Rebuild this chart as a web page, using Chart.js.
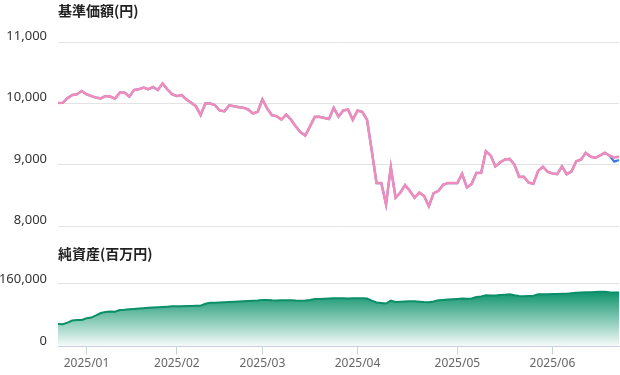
<!DOCTYPE html>
<html lang="ja">
<head>
<meta charset="UTF-8" />
<title>基準価額・純資産</title>
<script src="https://cdn.jsdelivr.net/npm/chart.js@4.4.1/dist/chart.umd.min.js"></script>
<style>
  body { margin: 0; background: #fff; }
  #wrap { position: relative; width: 620px; height: 375px; }
  #nav { position: absolute; left: 0; top: 0; }
  #aum { position: absolute; left: 0; top: 236px; }
</style>
</head>
<body>
<div id="wrap">
  <canvas id="nav" width="620" height="245"></canvas>
  <canvas id="aum" width="620" height="139"></canvas>
</div>
<script>
const dates = [
  "2024/12/23","2024/12/24","2024/12/25","2024/12/26","2024/12/27","2024/12/30",
  "2025/01/06","2025/01/07","2025/01/08","2025/01/09","2025/01/10","2025/01/14","2025/01/15",
  "2025/01/16","2025/01/17","2025/01/20","2025/01/21","2025/01/22","2025/01/23","2025/01/24",
  "2025/01/27","2025/01/28","2025/01/29","2025/01/30","2025/01/31",
  "2025/02/03","2025/02/04","2025/02/05","2025/02/06","2025/02/07","2025/02/10","2025/02/12",
  "2025/02/13","2025/02/14","2025/02/17","2025/02/18","2025/02/19","2025/02/20","2025/02/21",
  "2025/02/25","2025/02/26","2025/02/27","2025/02/28",
  "2025/03/03","2025/03/04","2025/03/05","2025/03/06","2025/03/07","2025/03/10","2025/03/11",
  "2025/03/12","2025/03/13","2025/03/14","2025/03/17","2025/03/18","2025/03/19","2025/03/21",
  "2025/03/24","2025/03/25","2025/03/26","2025/03/27","2025/03/28","2025/03/31",
  "2025/04/01","2025/04/02","2025/04/03","2025/04/04","2025/04/07","2025/04/08","2025/04/09",
  "2025/04/10","2025/04/11","2025/04/14","2025/04/15","2025/04/16","2025/04/17","2025/04/18",
  "2025/04/21","2025/04/22","2025/04/23","2025/04/24","2025/04/25","2025/04/28","2025/04/30",
  "2025/05/01","2025/05/02","2025/05/07","2025/05/08","2025/05/09","2025/05/12","2025/05/13",
  "2025/05/14","2025/05/15","2025/05/16","2025/05/19","2025/05/20","2025/05/21","2025/05/22",
  "2025/05/23","2025/05/26","2025/05/27","2025/05/28","2025/05/29","2025/05/30",
  "2025/06/02","2025/06/03","2025/06/04","2025/06/05","2025/06/06","2025/06/09","2025/06/10",
  "2025/06/11","2025/06/12","2025/06/13","2025/06/16","2025/06/17","2025/06/18","2025/06/19",
  "2025/06/20"
];
const monthLabels = ["2025/01", "2025/02", "2025/03", "2025/04", "2025/05", "2025/06"];
const navTicks = [8000, 9000, 10000, 11000];
const aumTicks = [0, 160000];

// 分配金再投資基準価額 (pink)
const navReinvested = [
  10012, 10015, 10090, 10142, 10154, 10208, 10154, 10125, 10099, 10088,
  10126, 10116, 10083, 10182, 10182, 10116, 10225, 10236, 10264, 10236,
  10274, 10225, 10331, 10236, 10154, 10126, 10142, 10071, 10017, 9960,
  9815, 10005, 10005, 9977, 9889, 9878, 9972, 9960, 9944, 9934,
  9906, 9840, 9868, 10071, 9922, 9812, 9795, 9740, 9823, 9740,
  9630, 9537, 9481, 9630, 9785, 9785, 9768, 9752, 9934, 9790,
  9889, 9905, 9739, 9889, 9867, 9739, 9230, 8705, 8705, 8357,
  8964, 8466, 8549, 8672, 8577, 8466, 8549, 8494, 8328, 8539,
  8577, 8677, 8705, 8705, 8705, 8855, 8632, 8689, 8870, 8870,
  9226, 9154, 8977, 9043, 9088, 9100, 9005, 8806, 8806, 8711,
  8695, 8905, 8972, 8889, 8861, 8850, 8977, 8850, 8894, 9060,
  9088, 9199, 9138, 9116, 9154, 9199, 9154, 9120, 9140
];
// 基準価額 (blue)
const nav = [
  10012, 10015, 10090, 10142, 10154, 10208, 10154, 10125, 10099, 10088,
  10126, 10116, 10083, 10182, 10182, 10116, 10225, 10236, 10264, 10236,
  10274, 10225, 10331, 10236, 10154, 10126, 10142, 10071, 10017, 9960,
  9815, 10005, 10005, 9977, 9889, 9878, 9972, 9960, 9944, 9934,
  9906, 9840, 9868, 10071, 9922, 9812, 9795, 9740, 9823, 9740,
  9630, 9537, 9481, 9630, 9785, 9785, 9768, 9752, 9934, 9790,
  9889, 9905, 9739, 9889, 9867, 9739, 9230, 8705, 8705, 8357,
  8964, 8466, 8549, 8672, 8577, 8466, 8549, 8494, 8328, 8539,
  8577, 8677, 8705, 8705, 8705, 8855, 8632, 8689, 8870, 8870,
  9226, 9154, 8977, 9043, 9088, 9100, 9005, 8806, 8806, 8711,
  8695, 8905, 8972, 8889, 8861, 8850, 8977, 8850, 8894, 9060,
  9088, 9199, 9138, 9116, 9154, 9199, 9154, 9055, 9080
];
// 純資産(百万円)
const netAssets = [
  57700, 57000, 61000, 66500, 67800, 68000, 72000, 74000, 79500, 85500,
  88000, 89500, 89000, 93000, 93800, 95000, 96000, 97000, 97800, 98700,
  99600, 100500, 101000, 101700, 102500, 102800, 103100, 103400, 103600, 103800,
  104000, 109000, 111500, 112000, 112600, 113100, 113600, 114200, 115000, 115600,
  116200, 116700, 117200, 119000, 118500, 117800, 117600, 118000, 118400, 118300,
  117500, 117000, 117500, 119000, 121000, 121300, 121700, 122300, 123100, 123400,
  123000, 122800, 123100, 123400, 123200, 122600, 117300, 112600, 111300, 109700,
  117000, 113500, 114500, 115000, 115500, 115500, 114500, 113500, 112800, 115000,
  117800, 118800, 119800, 120700, 121500, 122500, 121800, 122500, 126200, 127500,
  130800, 130500, 130200, 131400, 132300, 133200, 130800, 129000, 128100, 128900,
  129800, 133200, 133200, 133300, 133700, 134000, 134400, 134700, 136000, 137000,
  137700, 138300, 138700, 139200, 139500, 139500, 138200, 138000, 138000
];

const jp = "'Noto Sans CJK JP', 'Noto Sans', sans-serif";
const latin = "'Noto Sans', sans-serif";
const fmt = v => v.toLocaleString("en-US");

new Chart(document.getElementById("nav"), {
  type: "line",
  data: {
    labels: dates,
    datasets: [
      { label: "分配金再投資基準価額", data: navReinvested, borderColor: "#f08cbc",
        borderWidth: 2.6, pointRadius: 0, order: 1 },
      { label: "基準価額", data: nav, borderColor: "#3b7ae6",
        borderWidth: 2.2, pointRadius: 0, order: 2 }
    ]
  },
  options: {
    responsive: false,
    animation: false,
    layout: { padding: { right: 1 } },
    plugins: {
      legend: { display: false },
      tooltip: { enabled: false },
      title: {
        display: true, text: "基準価額(円)", align: "start", fullSize: false,
        color: "#222", font: { family: jp, size: 14, weight: "bold" },
        padding: { top: 2, bottom: 23.7 }
      }
    },
    scales: {
      x: { display: false },
      y: {
        min: 8000, max: 11000,
        afterBuildTicks: s => { s.ticks = navTicks.map(v => ({ value: v })); },
        afterFit: s => { s.width = 58; },
        border: { display: false },
        grid: { color: "#e3e3e3", drawTicks: false },
        ticks: { padding: 11, labelOffset: -6, color: "#333",
                 font: { family: latin, size: 13 }, callback: fmt }
      }
    }
  }
});

new Chart(document.getElementById("aum"), {
  type: "line",
  data: {
    labels: dates,
    datasets: [{
      label: "純資産", data: netAssets, borderColor: "#0b8f68", borderWidth: 2,
      pointRadius: 0, fill: "origin",
      backgroundColor: c => {
        const { ctx, chartArea, scales } = c.chart;
        if (!chartArea) return "rgba(14,148,108,0.5)";
        const g = ctx.createLinearGradient(0, scales.y.getPixelForValue(140000), 0, chartArea.bottom);
        g.addColorStop(0, "rgba(14,148,108,1)");
        g.addColorStop(1, "rgba(14,148,108,0.03)");
        return g;
      }
    }]
  },
  options: {
    responsive: false,
    animation: false,
    layout: { padding: { right: 1, bottom: 2 } },
    plugins: {
      legend: { display: false },
      tooltip: { enabled: false },
      title: {
        display: true, text: "純資産(百万円)", align: "start", fullSize: false,
        color: "#222", font: { family: jp, size: 14, weight: "bold" },
        padding: { top: 9, bottom: 22 }
      }
    },
    scales: {
      x: {
        afterBuildTicks: s => {
          s.ticks = monthLabels.map(m => ({ value: dates.findIndex(d => d.startsWith(m)) }));
        },
        border: { color: "#c9d1e3" },
        grid: { drawOnChartArea: false, color: "#c9d1e3", tickLength: 8 },
        ticks: {
          autoSkip: false, maxRotation: 0, padding: 2, color: "#666",
          font: { family: latin, size: 12 },
          callback: function (v) { return this.getLabelForValue(v).slice(0, 7); }
        }
      },
      y: {
        min: 0, max: 160000,
        afterBuildTicks: s => { s.ticks = aumTicks.map(v => ({ value: v })); },
        afterFit: s => { s.width = 58; },
        border: { display: false },
        grid: { color: "#e3e3e3", drawTicks: false },
        ticks: { padding: 11, labelOffset: -5, color: "#333",
                 font: { family: latin, size: 13 }, callback: fmt }
      }
    }
  }
});
</script>
</body>
</html>
